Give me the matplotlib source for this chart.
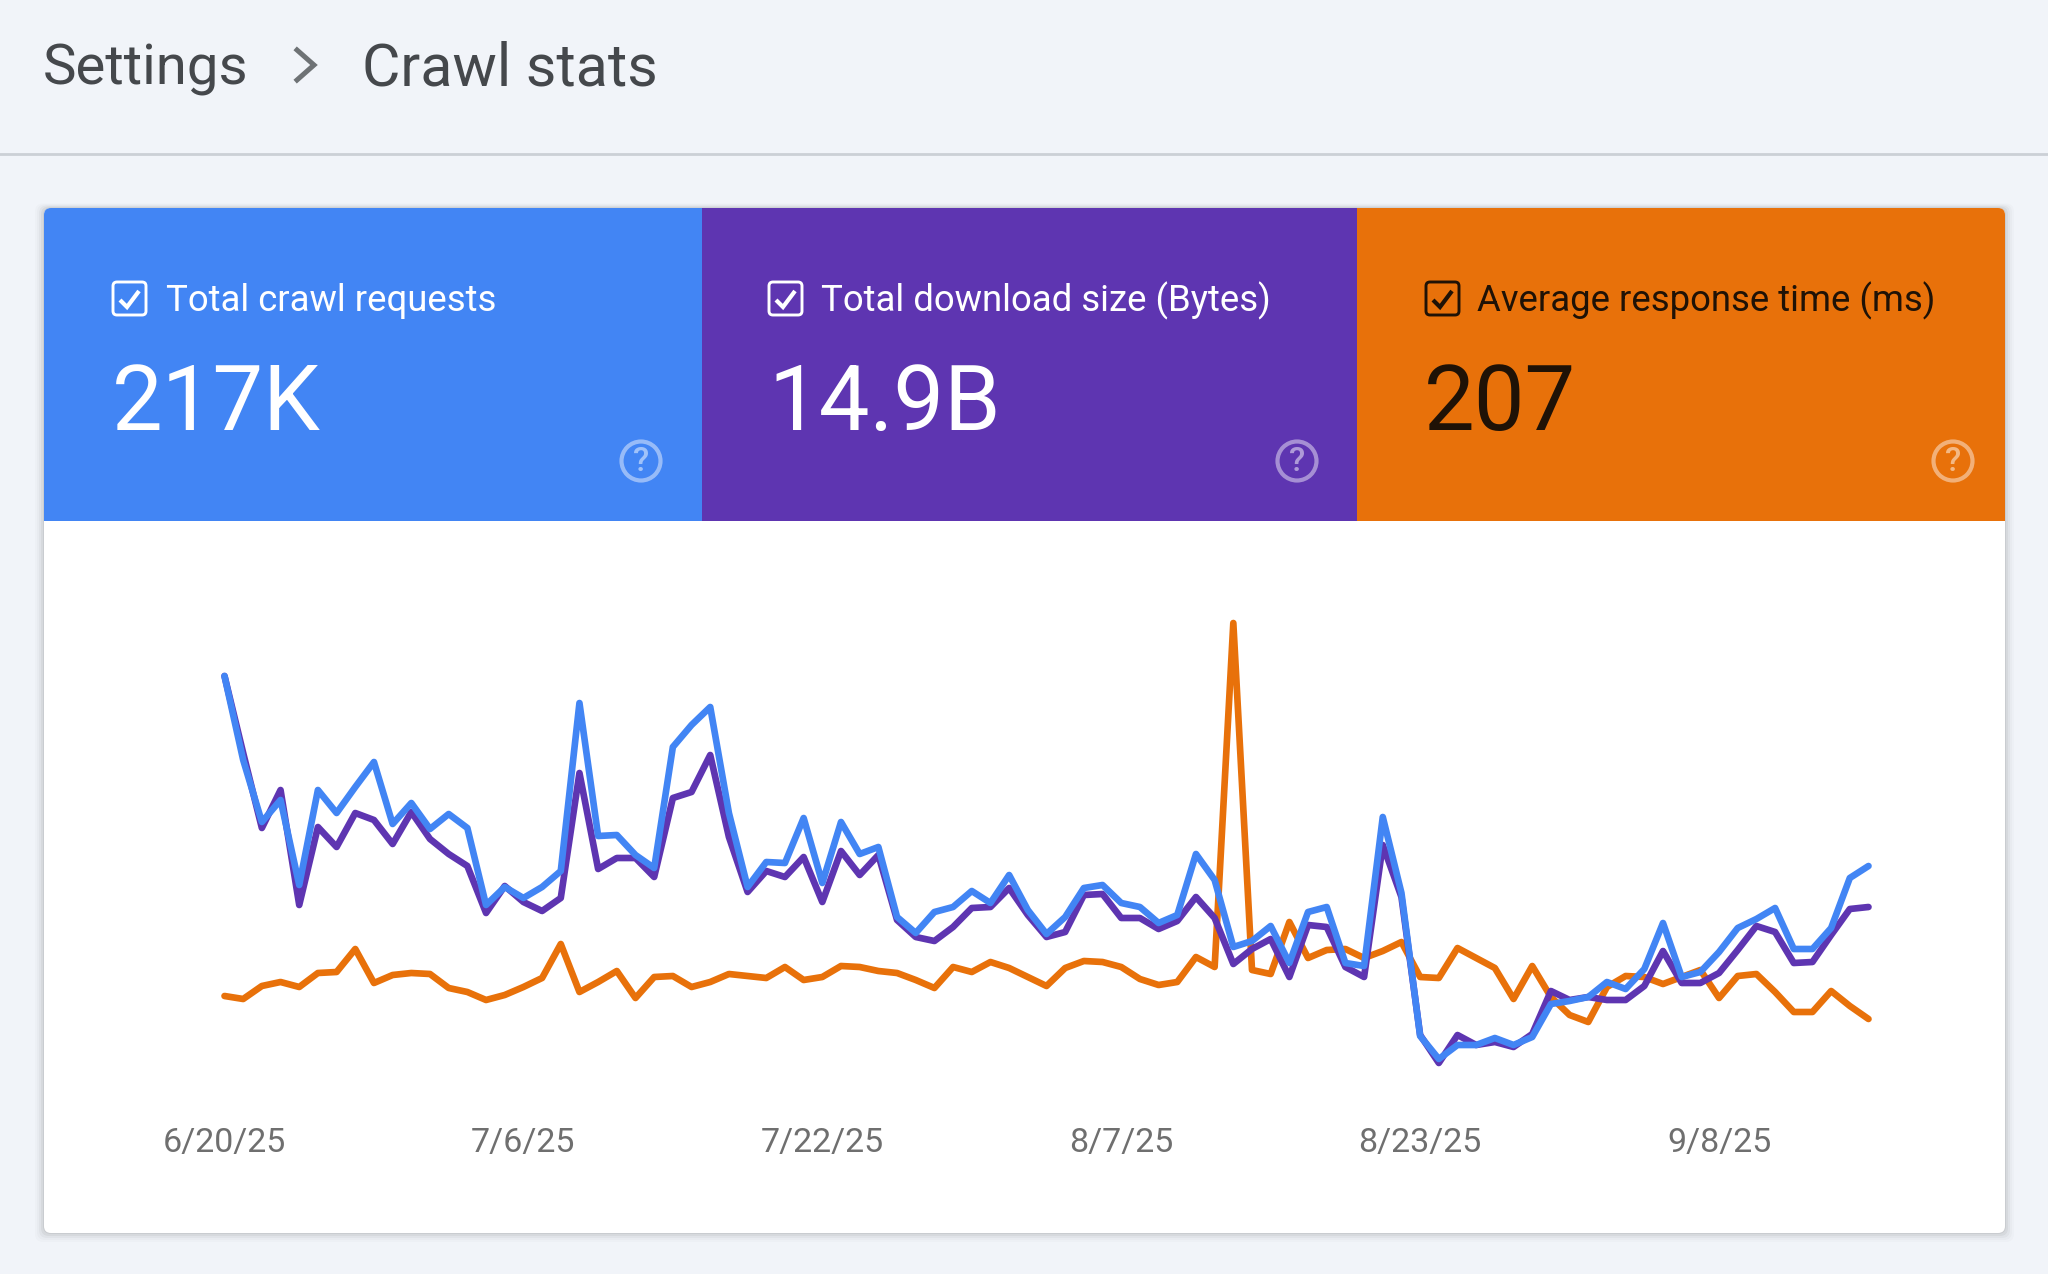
#!/usr/bin/env python

import matplotlib

matplotlib.use("Agg")

import pandas as pd
from matplotlib import pyplot as plt
from matplotlib.patches import Circle, FancyBboxPatch, Rectangle

plt.rcParams["font.family"] = ["Roboto", "DejaVu Sans"]

W, H = 2048, 1274
PAGE = "#f1f4f9"
BLUE = "#4285f4"
PURPLE = "#5e35b1"
ORANGE = "#e8710a"

start_date = "2025-06-20"
tick_labels = ["6/20/25", "7/6/25", "7/22/25", "8/7/25", "8/23/25", "9/8/25"]

tile_titles = ["Total crawl requests", "Total download size (Bytes)", "Average response time (ms)"]
tile_values = ["217K", "14.9B", "207"]

# no y axis in this view, each metric is on its own relative scale
crawl_requests = [
    424, 340, 278, 300, 215, 310, 287, 313, 338, 276, 297, 271, 286, 272, 195, 213, 202, 213,
    229, 397, 264, 265, 245, 232, 353, 375, 393, 287, 213, 238, 237, 282, 217, 278, 246, 253,
    183, 167, 188, 193, 209, 197, 225, 190, 166, 183, 212, 215, 197, 193, 177, 185, 246, 220,
    153, 159, 174, 137, 188, 193, 137, 134, 283, 207, 64, 41, 55, 55, 62, 55, 63, 96,
    99, 103, 118, 111, 131, 177, 123, 128, 148, 172, 181, 192, 151, 151, 172, 222, 234,
]
download_size = [
    424, 347, 272, 310, 195, 273, 253, 287, 280, 256, 288, 261, 246, 234, 187, 214, 198, 189,
    202, 327, 231, 242, 242, 223, 302, 308, 345, 263, 208, 229, 223, 243, 198, 249, 225, 245,
    180, 163, 159, 173, 192, 193, 212, 185, 163, 168, 205, 206, 182, 182, 171, 179, 203, 182,
    136, 151, 161, 123, 175, 173, 133, 123, 255, 203, 65, 37, 65, 55, 58, 53, 66, 109,
    100, 103, 100, 100, 114, 149, 117, 117, 127, 150, 174, 168, 137, 138, 165, 191, 193,
]
response_time = [
    104, 101, 114, 118, 113, 127, 128, 151, 117, 125, 127, 126, 112, 108, 100, 105, 113, 122,
    156, 108, 118, 129, 102, 123, 124, 113, 118, 126, 124, 122, 133, 120, 123, 134, 133, 129,
    127, 120, 112, 133, 128, 138, 132, 123, 114, 132, 139, 138, 133, 121, 115, 118, 143, 133,
    477, 130, 126, 178, 142, 150, 151, 142, 149, 158, 123, 122, 152, 142, 132, 101, 134, 103,
    85, 78, 113, 124, 123, 116, 123, 130, 102, 124, 126, 108, 88, 88, 109, 94, 81,
]


def draw_checkbox(bg, x, y, color):
    bg.add_patch(FancyBboxPatch((x, y), 33, 33, boxstyle="round,pad=0,rounding_size=4",
                                fc="none", ec=color, lw=2.1, zorder=4))
    bg.plot([x + 7, x + 14, x + 26], [y + 18, y + 25, y + 9], color=color, lw=3,
            solid_joinstyle="miter", solid_capstyle="butt", zorder=4)


def draw_help(bg, x, y, color):
    bg.add_patch(Circle((x, y), 19.5, fc="none", ec=color, lw=3, alpha=0.45, zorder=4))
    bg.text(x, y + 1, "?", color=color, alpha=0.5, fontsize=24, fontweight="medium",
            ha="center", va="center", zorder=4)


def draw_tile(bg, card, x0, x1, color, title, value, text_color, box_x, title_x, value_x, help_x):
    tile = Rectangle((x0, 208), x1 - x0, 313, fc=color, ec="none", zorder=2)
    bg.add_patch(tile)
    tile.set_clip_path(card)
    bg.text(title_x, 301, title, color=text_color, fontsize=26.3, va="center", zorder=3)
    bg.text(value_x, 430, value, color=text_color, fontsize=65, va="baseline", zorder=3)
    draw_checkbox(bg, box_x, 282, text_color)
    draw_help(bg, help_x, 461, "white")


def prepare_page(fig):
    bg = fig.add_axes([0, 0, 1, 1])
    bg.set_xlim(0, W)
    bg.set_ylim(H, 0)
    bg.axis("off")

    bg.text(43, 70, "Settings", color="#45484c", fontsize=40.6, va="center")
    bg.text(362, 69, "Crawl stats", color="#45484c", fontsize=42.5, va="center")
    bg.plot([297, 314, 297], [50, 65, 80], color="#6e7275", lw=3.6, solid_joinstyle="miter")
    bg.plot([0, W], [154, 154], color="#cbd0d6", lw=2)

    # soft shadow under the card
    for grow, alpha in [(9, 0.015), (7, 0.02), (5, 0.03), (3, 0.045), (1, 0.06)]:
        bg.add_patch(FancyBboxPatch((44 - grow, 208 - grow / 2), 1961 + 2 * grow, 1025 + 1.5 * grow,
                                    boxstyle="round,pad=0,rounding_size=8", fc="black", ec="none",
                                    alpha=alpha, zorder=1))
    card = FancyBboxPatch((44, 208), 1961, 1025, boxstyle="round,pad=0,rounding_size=7",
                          fc="white", ec="none", zorder=1)
    bg.add_patch(card)

    draw_tile(bg, card, 44, 702, BLUE, tile_titles[0], tile_values[0], "white", 113, 166, 112, 641)
    draw_tile(bg, card, 702, 1357, PURPLE, tile_titles[1], tile_values[1], "white", 769, 821, 768, 1297)
    draw_tile(bg, card, 1357, 2005, ORANGE, tile_titles[2], tile_values[2], "#1f1206", 1426, 1477, 1424, 1953)


def prepare_chart(fig):
    left, right, top, bottom = 224.5, 1868.5, 600, 1110
    ax = fig.add_axes([left / W, 1 - bottom / H, (right - left) / W, (bottom - top) / H])
    ax.patch.set_alpha(0)
    for side in ax.spines.values():
        side.set_visible(False)
    ax.set_yticks([])
    ax.set_ylim(-10, 500)
    return ax


def main():
    fig = plt.figure(figsize=(W / 100, H / 100), dpi=100, facecolor=PAGE)
    prepare_page(fig)
    ax = prepare_chart(fig)

    days = pd.date_range(start_date, periods=len(crawl_requests), freq="D")
    for series, color in [(response_time, ORANGE), (download_size, PURPLE), (crawl_requests, BLUE)]:
        ax.plot(days, series, color=color, lw=4.8, clip_on=False, solid_joinstyle="round",
                solid_capstyle="round")

    ax.set_xlim(days[0], days[-1])
    ax.set_xticks(days[::16][: len(tick_labels)])
    ax.set_xticklabels(tick_labels, fontsize=24.5, color="#6f6f6f")
    ax.tick_params(axis="x", length=0, pad=12)

    fig.savefig("out.png", dpi=100, facecolor=PAGE)


if __name__ == "__main__":
    main()
